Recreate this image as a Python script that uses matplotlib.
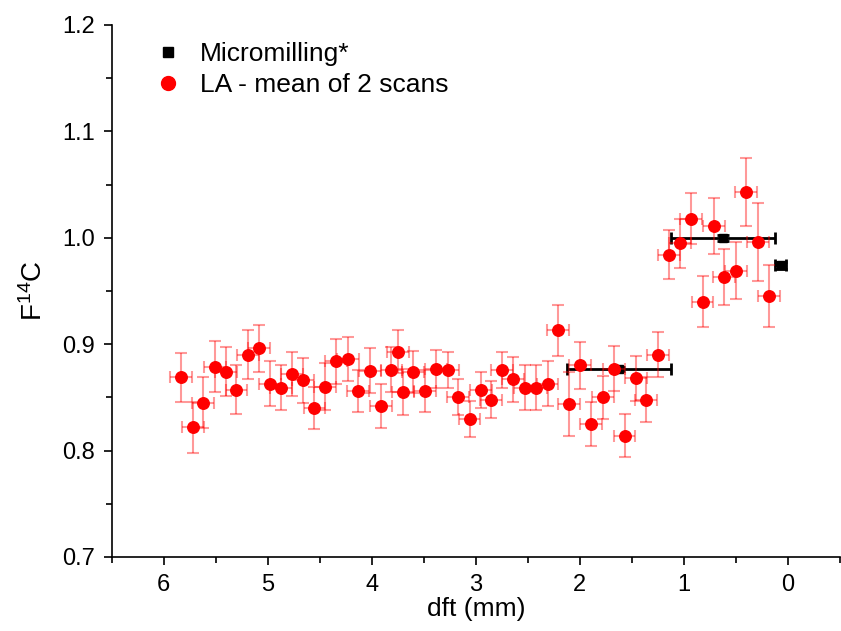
import matplotlib
matplotlib.use('Agg')
import matplotlib.pyplot as plt
from matplotlib.lines import Line2D
from matplotlib.ticker import MultipleLocator, FormatStrFormatter

plt.rcParams['font.family'] = ['Liberation Sans', 'DejaVu Sans']
plt.rcParams['mathtext.default'] = 'regular'

# LA - mean of 2 scans (distance from tip, mm / F14C)
la_x = [5.83, 5.72, 5.62, 5.51, 5.40, 5.30, 5.19, 5.08, 4.98, 4.87,
        4.77, 4.66, 4.55, 4.45, 4.34, 4.23, 4.13, 4.02, 3.91, 3.81,
        3.75, 3.70, 3.60, 3.49, 3.38, 3.27, 3.17, 3.06, 2.95, 2.85,
        2.75, 2.64, 2.53, 2.42, 2.31, 2.21, 2.10, 2.00, 1.89, 1.78,
        1.67, 1.57, 1.46, 1.36, 1.25, 1.14, 1.04, 0.93, 0.82, 0.71,
        0.61, 0.50, 0.40, 0.29, 0.18]
la_y = [0.869, 0.822, 0.845, 0.879, 0.874, 0.857, 0.890, 0.896, 0.863, 0.859,
        0.872, 0.866, 0.840, 0.860, 0.884, 0.886, 0.856, 0.875, 0.842, 0.876,
        0.893, 0.855, 0.874, 0.856, 0.877, 0.876, 0.850, 0.830, 0.857, 0.848,
        0.876, 0.867, 0.859, 0.859, 0.863, 0.913, 0.844, 0.880, 0.825, 0.850,
        0.877, 0.814, 0.868, 0.848, 0.890, 0.984, 0.995, 1.018, 0.940, 1.011,
        0.963, 0.969, 1.043, 0.996, 0.945]
la_yerr = [0.023, 0.024, 0.024, 0.024, 0.023, 0.023, 0.023, 0.022, 0.021, 0.021,
           0.021, 0.021, 0.020, 0.022, 0.021, 0.021, 0.020, 0.021, 0.021, 0.021,
           0.020, 0.022, 0.020, 0.020, 0.018, 0.017, 0.017, 0.017, 0.017, 0.017,
           0.017, 0.021, 0.021, 0.021, 0.021, 0.024, 0.030, 0.022, 0.021, 0.020,
           0.021, 0.020, 0.021, 0.021, 0.021, 0.023, 0.023, 0.024, 0.024, 0.026,
           0.026, 0.027, 0.032, 0.037, 0.029]
la_xerr = 0.105

# Micromilling*
mm_x = [1.62, 0.62, 0.07]
mm_y = [0.877, 1.000, 0.974]
mm_xerr = [0.5, 0.5, 0.05]
mm_yerr = [0.002, 0.003, 0.003]

fig = plt.figure(figsize=(8.41, 6.31), dpi=100)
ax = fig.add_axes([0.1327, 0.1173, 0.866, 0.8431])

ax.errorbar(mm_x, mm_y, xerr=mm_xerr, yerr=mm_yerr, fmt='s', color='black',
            markersize=6, elinewidth=2, capsize=4, capthick=2, zorder=2)
ax.errorbar(la_x, la_y, xerr=la_xerr, yerr=la_yerr, fmt='none', ecolor='#ff0000',
            alpha=0.4, elinewidth=1.5, capsize=4, capthick=1.5, zorder=3)
ax.plot(la_x, la_y, 'o', color='#ff0000', markersize=8.3, zorder=4)

ax.set_xlim(6.5, -0.5)
ax.set_ylim(0.7, 1.2)
ax.xaxis.set_major_locator(MultipleLocator(1))
ax.xaxis.set_minor_locator(MultipleLocator(0.5))
ax.yaxis.set_major_locator(MultipleLocator(0.1))
ax.yaxis.set_minor_locator(MultipleLocator(0.05))
ax.yaxis.set_major_formatter(FormatStrFormatter('%.1f'))

for side in ['top', 'right']:
    ax.spines[side].set_visible(False)
for side in ['left', 'bottom']:
    ax.spines[side].set_linewidth(1.2)
ax.tick_params(which='major', direction='out', length=6, width=1.2, labelsize=17, pad=6)
ax.tick_params(which='minor', direction='out', length=4, width=1.2)

ax.set_xlabel('dft (mm)', fontsize=19, labelpad=1)
ax.set_ylabel('F$^{14}$C', fontsize=20, labelpad=10)

handles = [Line2D([], [], marker='s', color='black', linestyle='none', markersize=7),
           Line2D([], [], marker='o', color='#ff0000', linestyle='none', markersize=10)]
ax.legend(handles, ['Micromilling*', 'LA - mean of 2 scans'], loc='upper left',
          bbox_to_anchor=(0.045, 0.987), frameon=False, fontsize=19,
          handlelength=1.0, handletextpad=0.7, labelspacing=0.25, borderaxespad=0)

fig.savefig('out.png', dpi=100)
